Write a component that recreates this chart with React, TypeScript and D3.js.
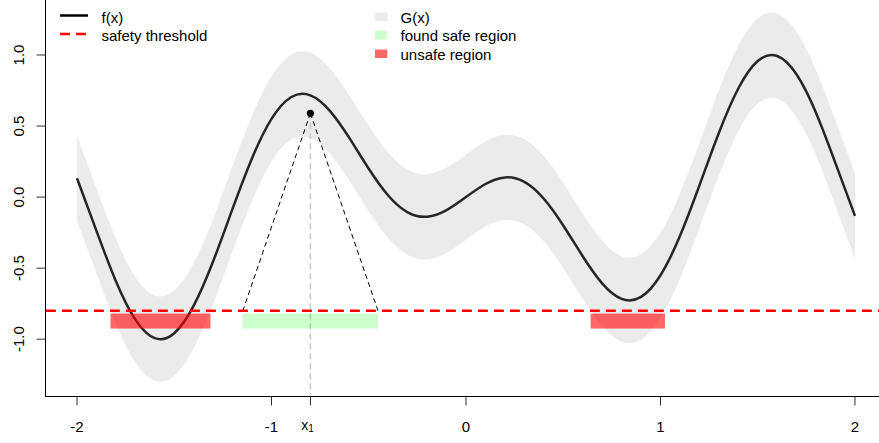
import React from 'react';
import * as d3 from 'd3';

// ---- data ----
const xGrid = [
  -2.0, -1.9, -1.8, -1.7, -1.6, -1.5, -1.4, -1.3, -1.2, -1.1, -1.0,
  -0.9, -0.8, -0.7, -0.6, -0.5, -0.4, -0.3, -0.2, -0.1, 0.0,
  0.1, 0.2, 0.3, 0.4, 0.5, 0.6, 0.7, 0.8, 0.9, 1.0,
  1.1, 1.2, 1.3, 1.4, 1.5, 1.6, 1.7, 1.8, 1.9, 2.0,
];
const fValues = [
  0.1323, -0.2378, -0.5924, -0.8624, -0.9928, -0.9578, -0.7643, -0.4515, -0.0816, 0.2739, 0.55,
  0.7025, 0.7161, 0.607, 0.4164, 0.1995, 0.0114, -0.1071, -0.1384, -0.092, 0.0,
  0.092, 0.1384, 0.1071, -0.0114, -0.1995, -0.4164, -0.607, -0.7161, -0.7025, -0.55,
  -0.2739, 0.0816, 0.4515, 0.7643, 0.9578, 0.9928, 0.8624, 0.5924, 0.2378, -0.1323,
];
const gUpper = [
  0.4323, 0.0622, -0.2924, -0.5624, -0.6928, -0.6578, -0.4643, -0.1515, 0.2184, 0.5739, 0.85,
  1.0025, 1.0161, 0.907, 0.7164, 0.4995, 0.3114, 0.1929, 0.1616, 0.208, 0.3,
  0.392, 0.4384, 0.4071, 0.2886, 0.1005, -0.1164, -0.307, -0.4161, -0.4025, -0.25,
  0.0261, 0.3816, 0.7515, 1.0643, 1.2578, 1.2928, 1.1624, 0.8924, 0.5378, 0.1677,
];
const gLower = [
  -0.1677, -0.5378, -0.8924, -1.1624, -1.2928, -1.2578, -1.0643, -0.7515, -0.3816, -0.0261, 0.25,
  0.4025, 0.4161, 0.307, 0.1164, -0.1005, -0.2886, -0.4071, -0.4384, -0.392, -0.3,
  -0.208, -0.1616, -0.1929, -0.3114, -0.4995, -0.7164, -0.907, -1.0161, -1.0025, -0.85,
  -0.5739, -0.2184, 0.1515, 0.4643, 0.6578, 0.6928, 0.5624, 0.2924, -0.0622, -0.4323,
];
const threshold = -0.8;
const x1 = -0.8;
const y1 = 0.59;
const safeRegion = [-1.1475, -0.4525];
const unsafeStarts = [-1.828, 0.641];
const unsafeEnds = [-1.314, 1.023];
const barTop = -0.82;
const barBottom = -0.925;
const xTicks = [-2, -1, 0, 1, 2];
const xTickLabels = ['-2', '-1', '0', '1', '2'];
const yTicks = [-1, -0.5, 0, 0.5, 1];
const yTickLabels = ['-1.0', '-0.5', '0.0', '0.5', '1.0'];
const legendLeft = ['f(x)', 'safety threshold'];
const legendRight = ['G(x)', 'found safe region', 'unsafe region'];

const W = 879;
const H = 443;
const FONT = '"Liberation Sans", Arial, sans-serif';
const BAND = '#ebebeb';
const RED_FILL = 'rgba(255,0,0,0.6)';
const GREEN_FILL = 'rgba(0,255,0,0.2)';

export default function App() {
  const xScale = d3.scaleLinear().domain([-2.16, 2.16]).range([45.9, 886.1]);
  const yScale = d3.scaleLinear().domain([-1.404, 1.404]).range([396.6, -2.4]);

  const line = d3
    .line<number>()
    .x((_, i) => xScale(xGrid[i]))
    .y((d) => yScale(d))
    .curve(d3.curveNatural);
  const area = d3
    .area<number>()
    .x((_, i) => xScale(xGrid[i]))
    .y0((_, i) => yScale(gLower[i]))
    .y1((_, i) => yScale(gUpper[i]))
    .curve(d3.curveNatural);

  const [xl, xr] = xScale.range();
  const [yb, yt] = yScale.range();
  const px1 = xScale(x1);
  const py1 = yScale(y1);
  const pth = yScale(threshold);

  return (
    <svg
      width={W}
      height={H}
      viewBox={`0 0 ${W} ${H}`}
      style={{ position: 'absolute', left: 0, top: 0, display: 'block', background: '#fff' }}
      fontFamily={FONT}
    >
      <defs>
        <clipPath id="plotClip">
          <rect x={xl} y={yt} width={xr - xl} height={yb - yt} />
        </clipPath>
      </defs>
      <g clipPath="url(#plotClip)">
        <path d={area(fValues) || ''} fill={BAND} stroke="none" />
        <path d={line(fValues) || ''} fill="none" stroke="#262626" strokeWidth={2.5} />
        {/* vertical line at x1 */}
        <line x1={px1} x2={px1} y1={py1} y2={yb} stroke="#c8c8c8" strokeWidth={1.5} strokeDasharray="6,4" />
        {/* Lipschitz cone */}
        <line x1={px1} y1={py1} x2={xScale(safeRegion[0])} y2={pth} stroke="#000" strokeWidth={1} strokeDasharray="5,3.5" />
        <line x1={px1} y1={py1} x2={xScale(safeRegion[1])} y2={pth} stroke="#000" strokeWidth={1} strokeDasharray="5,3.5" />
        <circle cx={px1} cy={py1} r={3.6} fill="#000" />
        {/* threshold */}
        <line x1={xl} x2={xr} y1={pth} y2={pth} stroke="#ff0000" strokeWidth={2.5} strokeDasharray="10,6" />
        {/* safe region */}
        <rect
          x={xScale(safeRegion[0])}
          width={xScale(safeRegion[1]) - xScale(safeRegion[0])}
          y={yScale(barTop)}
          height={yScale(barBottom) - yScale(barTop)}
          fill={GREEN_FILL}
        />
        {unsafeStarts.map((s, i) => (
          <rect
            key={i}
            x={xScale(s)}
            width={xScale(unsafeEnds[i]) - xScale(s)}
            y={yScale(barTop)}
            height={yScale(barBottom) - yScale(barTop)}
            fill={RED_FILL}
          />
        ))}
      </g>
      {/* box */}
      <rect x={45.5} y={yt} width={xr - 45.5} height={396.5 - yt} fill="none" stroke="#000" strokeWidth={1} />
      {/* x axis ticks */}
      {xTicks.map((t, i) => (
        <g key={'xt' + i}>
          <line x1={xScale(t)} x2={xScale(t)} y1={396.5} y2={405.5} stroke="#333" strokeWidth={1} />
          <text x={xScale(t)} y={431.5} textAnchor="middle" fontSize={15} fill="#000">
            {xTickLabels[i]}
          </text>
        </g>
      ))}
      <line x1={px1} x2={px1} y1={396.5} y2={405.5} stroke="#333" strokeWidth={1} />
      <text x={px1} y={429.5} textAnchor="middle" dx={-3} fontSize={14} fill="#000">
        x
        <tspan fontSize={10} dy={2.5}>1</tspan>
      </text>
      {/* y axis ticks */}
      {yTicks.map((t, i) => (
        <g key={'yt' + i}>
          <line x1={36.5} x2={45.5} y1={yScale(t)} y2={yScale(t)} stroke="#333" strokeWidth={1} />
          <text
            transform={`translate(24,${yScale(t)}) rotate(-90)`}
            textAnchor="middle"
            fontSize={15}
            fill="#000"
          >
            {yTickLabels[i]}
          </text>
        </g>
      ))}
      {/* legend left */}
      <line x1={60} x2={88} y1={15.5} y2={15.5} stroke="#000" strokeWidth={2.5} />
      <line x1={60} x2={88} y1={34} y2={34} stroke="#ff0000" strokeWidth={2.5} strokeDasharray="10,6" />
      <text x={101.5} y={22.5} fontSize={15} fill="#000">{legendLeft[0]}</text>
      <text x={101.5} y={41} fontSize={15} fill="#000">{legendLeft[1]}</text>
      {/* legend right */}
      <rect x={375} y={12.5} width={12.3} height={8.5} fill={BAND} />
      <rect x={375} y={31} width={12.3} height={8.5} fill={GREEN_FILL} />
      <rect x={375} y={49.5} width={12.3} height={8.5} fill={RED_FILL} />
      <text x={400.5} y={22.5} fontSize={15} fill="#000">{legendRight[0]}</text>
      <text x={400.5} y={41} fontSize={15} fill="#000">{legendRight[1]}</text>
      <text x={400.5} y={59.5} fontSize={15} fill="#000">{legendRight[2]}</text>
    </svg>
  );
}
